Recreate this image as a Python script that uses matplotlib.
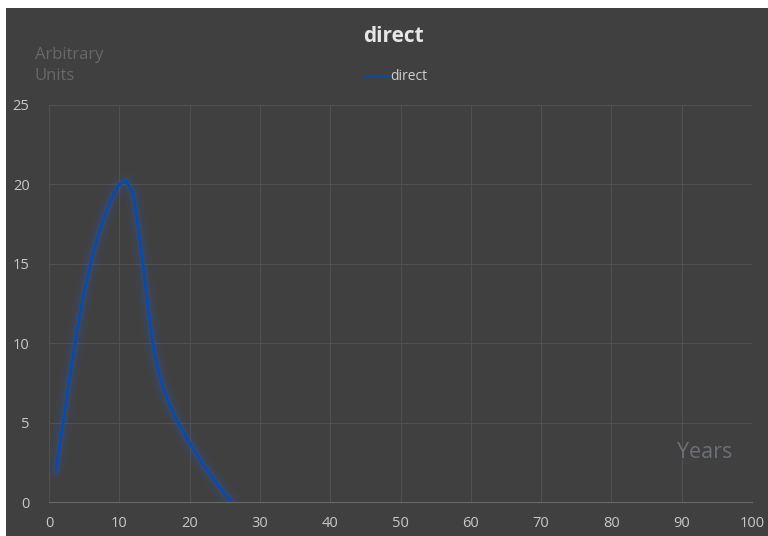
import matplotlib
matplotlib.use("Agg")
import matplotlib.pyplot as plt
from matplotlib.patches import Rectangle
from matplotlib.lines import Line2D

years = [1, 2, 3, 4, 5, 6, 7, 8, 9, 10, 11, 12, 13, 14, 15, 16, 17, 18, 19, 20, 21, 22, 23, 24, 25, 26]
direct = [2.0, 5.0, 8.0, 10.8, 13.2, 15.2, 16.8, 18.1, 19.2, 20.0, 20.2, 19.4, 16.3, 12.6, 9.3, 7.5,
          6.3, 5.3, 4.5, 3.7, 3.0, 2.3, 1.7, 1.1, 0.5, 0.0]
x_ticks = [0, 10, 20, 30, 40, 50, 60, 70, 80, 90, 100]
y_ticks = [0, 5, 10, 15, 20, 25]

plt.rcParams['font.family'] = ['Open Sans', 'DejaVu Sans']

W, H = 768, 536
fig = plt.figure(figsize=(W / 100, H / 100), dpi=100, facecolor='white')
bg = '#404040'
fig.patches.append(Rectangle((6 / W, 0), 1, 1 - 8 / H, transform=fig.transFigure,
                             facecolor=bg, edgecolor='none', zorder=-10))

ax = fig.add_axes([49 / W, 34 / H, (752 - 49) / W, (502 - 105) / H])
ax.set_zorder(1)
ax.set_facecolor(bg)
ax.set_xlim(0, 100)
ax.set_ylim(0, 25)
ax.set_xticks(x_ticks)
ax.set_yticks(y_ticks)
ax.grid(True, color='#505050', linewidth=0.8)
ax.set_axisbelow(True)
for s in ['top', 'right', 'left']:
    ax.spines[s].set_visible(False)
ax.spines['bottom'].set_color('#6a6a6a')
ax.tick_params(axis='both', length=0, colors='#c8c8c8', labelsize=10.5)
ax.tick_params(axis='x', pad=10)
ax.tick_params(axis='y', pad=14)

line_color = '#0d4aa6'
for lw, a in [(14, 0.04), (10, 0.06), (7, 0.09), (4.5, 0.12)]:
    ax.plot(years, direct, color='#2a5fc0', linewidth=lw, alpha=a,
            solid_capstyle='round', solid_joinstyle='round', zorder=3)
ax.plot(years, direct, color=line_color, linewidth=2.0, zorder=4,
        solid_capstyle='round', solid_joinstyle='round')

fig.text(393 / W, 1 - 37 / H, 'direct', ha='center', va='center', fontsize=15,
         fontweight='bold', color='#e6e6e6')
handle = Line2D([], [], color=line_color, linewidth=2)
leg = fig.legend([handle], ['direct'], loc='center', bbox_to_anchor=(396 / W, 1 - 77 / H),
                 frameon=False, fontsize=10, labelcolor='#d0d0d0', handlelength=1.8,
                 handletextpad=0.1)

fig.text(35 / W, 1 - 55 / H, 'Arbitrary', ha='left', va='center', fontsize=12, color='#686868')
fig.text(35 / W, 1 - 76 / H, 'Units', ha='left', va='center', fontsize=12, color='#686868')
ax.text(93.3, 3.1, 'Years', ha='center', va='center', fontsize=15.5, color='#6c6e78')

fig.savefig('out.png', dpi=100, facecolor='white')
